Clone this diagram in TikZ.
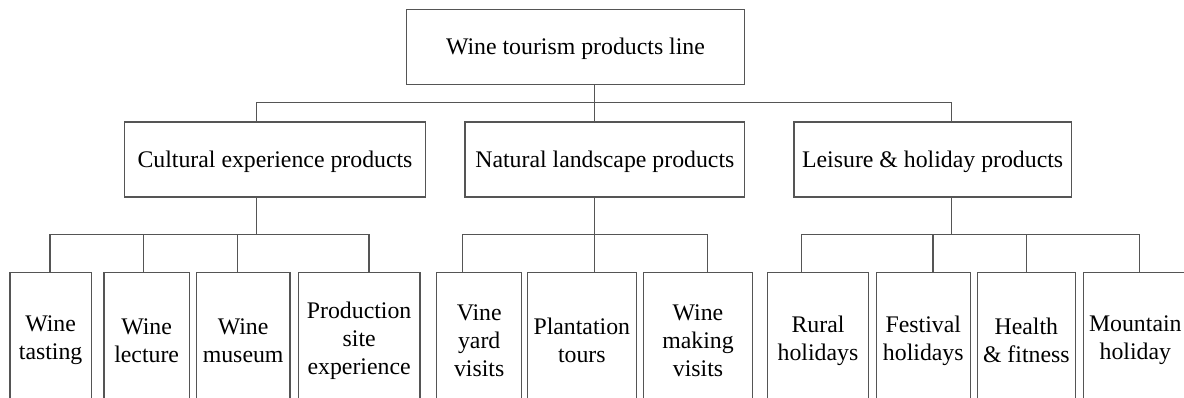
\documentclass[tikz,border=0pt]{standalone}
\usepackage{fontspec}
\setmainfont{Liberation Serif}
\usepackage{tikz}
\usetikzlibrary{positioning, calc}
\definecolor{linegray}{RGB}{85, 85, 85}

\tikzset{
  box/.style={draw=linegray, line width=1.3pt, inner sep=0pt, align=center},
  topbox/.style={box, minimum height=75pt, text depth=0pt},
  leafbox/.style={box, minimum height=135.6pt},
  link/.style={draw=linegray, line width=1.3pt}
}

\begin{document}
\begin{tikzpicture}[x=1pt, y=-1pt, font=\fontsize{23.8}{28}\selectfont]
  \useasboundingbox (0,0) rectangle (1184,398);
  % Top of the line
  \node[topbox, minimum width=338.4pt] (line) at (575.5,46.7) {Wine tourism products line};
  % Product groups
  \node[topbox, minimum width=300.6pt] (cult) at (275,159.5) {Cultural experience products};
  \node[topbox, minimum width=279.7pt] (nat) at (604.85,159.5) {Natural landscape products};
  \node[topbox, minimum width=277.3pt] (leis) at (932.65,159.5) {Leisure \& holiday products};
  % Cultural products
  \node[leafbox, minimum width=81.3pt] (tasting) at (50.65,340.5) {Wine\\tasting};
  \node[leafbox, minimum width=85.3pt] (lecture) at (146.65,340.5) {Wine\\lecture};
  \node[leafbox, minimum width=93.7pt] (museum) at (243.15,340.5) {Wine\\museum};
  \node[leafbox, minimum width=121.7pt] (site) at (359.15,340.5) {Production\\site\\experience};
  % Natural products
  \node[leafbox, minimum width=85pt] (vineyard) at (479.2,340.5) {Vine\\yard\\visits};
  \node[leafbox, minimum width=109pt] (plant) at (581.8,340.5) {Plantation\\tours};
  \node[leafbox, minimum width=108.6pt] (making) at (698,340.5) {Wine\\making\\visits};
  % Leisure products
  \node[leafbox, minimum width=100.6pt] (rural) at (818,340.5) {Rural\\holidays};
  \node[leafbox, minimum width=94pt] (fest) at (923.3,340.5) {Festival\\holidays};
  \node[leafbox, minimum width=98pt] (health) at (1026.3,340.5) {Health\\\& fitness};
  \node[leafbox, minimum width=103pt] (mount) at (1135.3,340.5) {Mountain\\holiday};

  % Junctions on the first bar
  \coordinate (j0) at (594.7,102.3);
  \coordinate (j1) at (256.7,102.3);
  \coordinate (j3) at (951.3,102.3);
  \draw[link] (line.south -| j0) -- (nat.north -| j0);
  \draw[link] (cult.north -| j1) -- (j1) -- (j3) -- (leis.north -| j3);

  % Junctions on the second bar
  \coordinate (c0) at (256.7,234.7);
  \coordinate (c1) at (50,234.7);
  \coordinate (c2) at (143.7,234.7);
  \coordinate (c3) at (237.7,234.7);
  \coordinate (c4) at (369,234.7);
  \draw[link] (cult.south -| c0) -- (c0);
  \draw[link] (tasting.north -| c1) -- (c1) -- (c4) -- (site.north -| c4);
  \draw[link] (c2) -- (lecture.north -| c2);
  \draw[link] (c3) -- (museum.north -| c3);

  \coordinate (n1) at (462.7,234.7);
  \coordinate (n2) at (594.7,234.7);
  \coordinate (n3) at (707.3,234.7);
  \draw[link] (nat.south -| n2) -- (plant.north -| n2);
  \draw[link] (vineyard.north -| n1) -- (n1) -- (n3) -- (making.north -| n3);

  \coordinate (l0) at (951.3,234.7);
  \coordinate (l1) at (801.3,234.7);
  \coordinate (l2) at (933,234.7);
  \coordinate (l3) at (1026.7,234.7);
  \coordinate (l4) at (1139.3,234.7);
  \draw[link] (leis.south -| l0) -- (l0);
  \draw[link] (rural.north -| l1) -- (l1) -- (l4) -- (mount.north -| l4);
  \draw[link] (l2) -- (fest.north -| l2);
  \draw[link] (l3) -- (health.north -| l3);
\end{tikzpicture}
\end{document}
